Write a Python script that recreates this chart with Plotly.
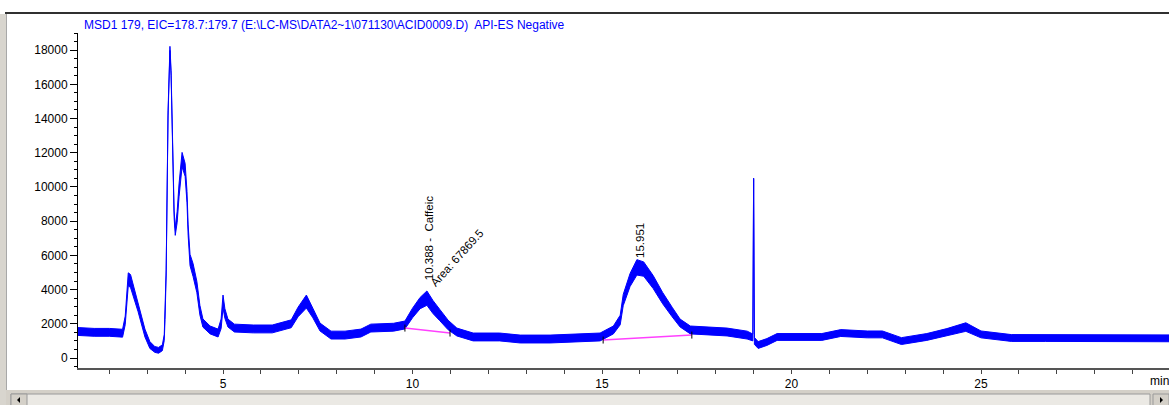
import plotly.graph_objects as go

# ---- data ----
time_min = [1.17, 1.6, 2.0, 2.35, 2.42, 2.5, 2.56, 2.63, 2.76, 2.94, 3.07, 3.2, 3.3, 3.4,
            3.45, 3.47, 3.50, 3.55, 3.58, 3.60, 3.63, 3.66, 3.68, 3.71, 3.74, 3.79, 3.84,
            3.92, 4.00, 4.05, 4.08, 4.13, 4.21, 4.31, 4.39, 4.47, 4.66, 4.87, 4.95, 5.0,
            5.05, 5.13, 5.3, 5.8, 6.3, 6.8, 6.98, 7.2, 7.37, 7.56, 7.85, 8.22, 8.64, 8.9,
            9.5, 9.8, 10.0, 10.2, 10.38, 10.54, 10.72, 10.94, 11.17, 11.6, 12.3, 12.84,
            13.63, 14.24, 14.95, 15.3, 15.48, 15.56, 15.74, 15.92, 16.1, 16.35, 16.6,
            16.85, 17.06, 17.33, 17.77, 18.3, 18.83, 18.98, 19.0, 19.02, 19.12, 19.35,
            19.62, 20.0, 20.8, 21.3, 22.0, 22.4, 22.9, 23.57, 24.1, 24.6, 25.0, 25.8,
            26.7, 28.0, 29.96]
abundance = [1550, 1500, 1500, 1450, 2200, 4600, 4500, 3970, 2980, 1460, 760, 500, 450, 600,
             1200, 2400, 5000, 14300, 16070, 18100, 16650, 13320, 10000, 8400, 7400, 8240,
             9800, 11600, 11000, 9400, 7480, 5730, 5140, 4150, 2800, 2045, 1640, 1460, 2000,
             3300, 2600, 2045, 1750, 1700, 1700, 2000, 2690, 3300, 2630, 1810, 1340, 1340,
             1460, 1750, 1800, 1930, 2630, 3210, 3500, 2980, 2510, 1930, 1520, 1230, 1230,
             1110, 1110, 1170, 1230, 1640, 2220, 3390, 4560, 5300, 5200, 4440, 3500, 2690,
             2045, 1640, 1600, 1520, 1340, 1200, 10500, 1000, 760, 935, 1230, 1230, 1230,
             1460, 1380, 1380, 990, 1230, 1520, 1810, 1380, 1170, 1170, 1150, 1150]
noise = [230, 230, 230, 230, 250, 380, 380, 330, 280, 230, 200, 170, 170, 170,
         170, 150, 150, 150, 150, 120, 150, 150, 170, 200, 230, 320, 380,
         420, 380, 330, 300, 330, 380, 330, 280, 240, 230, 230, 280,
         380, 280, 230, 230, 230, 230, 230, 280, 380, 280, 230, 230, 230,
         230, 230, 230, 230, 280, 330, 420, 380, 330, 280, 230, 230, 230,
         230, 230, 230, 230, 230, 280, 330, 380, 450, 420, 380, 330, 280,
         230, 230, 230, 230, 230, 200, 0, 200, 200, 200, 200, 200, 200,
         200, 200, 200, 200, 200, 200, 250, 200, 200, 200, 200, 200]

baseline1_t = [9.8, 10.99]
baseline1_y = [1750, 1460]
baseline2_t = [15.03, 17.37]
baseline2_y = [1050, 1340]

y_ticks = [0, 2000, 4000, 6000, 8000, 10000, 12000, 14000, 16000, 18000]
y_tick_labels = [str(v) for v in y_ticks]
x_ticks = [5, 10, 15, 20, 25]
x_tick_labels = [str(v) for v in x_ticks]

title_text = "MSD1 179, EIC=178.7:179.7 (E:\\LC-MS\\DATA2~1\\071130\\ACID0009.D)  API-ES Negative"
peak1_label = "10.388 -  Caffeic"
peak1_area = "Area: 67869.5"
peak2_label = "15.951"

# ---- layout geometry (pixels) ----
W, H = 1169, 405
ML, MR, MT, MB = 78, 0, 33, 37
PW, PH = W - ML - MR, H - MT - MB


def px(xp):
    return (xp - ML) / PW


def py(yp):
    return 1 - (yp - MT) / PH


lower = [c - n for c, n in zip(abundance, noise)]
upper = [c + n for c, n in zip(abundance, noise)]

fig = go.Figure()
fig.add_trace(go.Scatter(x=time_min, y=lower, mode="lines",
                         line=dict(color="#0000ff", width=1), hoverinfo="skip"))
fig.add_trace(go.Scatter(x=time_min, y=upper, mode="lines", fill="tonexty",
                         fillcolor="#0000ff", line=dict(color="#0000ff", width=1)))
for bt, by in [(baseline1_t, baseline1_y), (baseline2_t, baseline2_y)]:
    fig.add_trace(go.Scatter(x=bt, y=by, mode="lines+markers",
                             line=dict(color="#ff40ff", width=1.5),
                             marker=dict(symbol="line-ns", size=5,
                                         line=dict(color="black", width=1))))

font = "Liberation Sans, Arial, sans-serif"
fig.update_layout(
    width=W, height=H, showlegend=False,
    margin=dict(l=ML, r=MR, t=MT, b=MB, pad=0),
    paper_bgcolor="white", plot_bgcolor="white",
    font=dict(family=font, size=12, color="black"),
    xaxis=dict(range=[1.174, 29.96], tickvals=x_ticks, ticktext=x_tick_labels,
               ticks="outside", ticklen=4,
               tickcolor="#444", showline=True, linecolor="#555", linewidth=2,
               showgrid=False, zeroline=False, tickfont=dict(size=12),
               minor=dict(dtick=1, tick0=0, ticks="outside", ticklen=4, tickcolor="#444")),
    yaxis=dict(range=[-584, 19000], tickvals=y_ticks, ticktext=y_tick_labels,
               ticks="outside", ticklen=7,
               tickcolor="black", showline=True, linecolor="black", linewidth=1,
               showgrid=False, zeroline=False, tickfont=dict(size=12),
               minor=dict(dtick=500, tick0=0, ticks="outside", ticklen=3, tickcolor="black")),
)

annots = [
    dict(x=px(82), y=py(25), xref="paper", yref="paper", text=title_text,
         showarrow=False, xanchor="left", yanchor="middle",
         font=dict(size=12, color="#0000ff")),
    dict(x=10.44, y=7015, xref="x", yref="y", text=peak1_label, textangle=-90,
         showarrow=False, xanchor="center", yanchor="middle", font=dict(size=11.5)),
    dict(x=11.17, y=5846, xref="x", yref="y", text=peak1_area, textangle=-48,
         showarrow=False, xanchor="center", yanchor="middle", font=dict(size=11.5)),
    dict(x=16.0, y=6898, xref="x", yref="y", text=peak2_label, textangle=-90,
         showarrow=False, xanchor="center", yanchor="middle", font=dict(size=11.5)),
    dict(x=px(1148), y=py(381), xref="paper", yref="paper", text="min",
         showarrow=False, xanchor="left", yanchor="middle", font=dict(size=12)),
]
fig.update_layout(annotations=annots)


def rect(x0, y0, x1, y1, fill, line=None, lw=0):
    return dict(type="rect", xref="paper", yref="paper", x0=px(x0), x1=px(x1),
                y0=py(y1), y1=py(y0), fillcolor=fill, layer="above",
                line=dict(color=line or fill, width=lw))


shapes = [
    # window frame top border
    dict(type="line", xref="paper", yref="paper", x0=px(5), x1=px(1169),
         y0=py(13), y1=py(13), line=dict(color="#303030", width=2)),
    # left border strip
    rect(0, 14, 6, 405, "#d8d5ce"),
    dict(type="line", xref="paper", yref="paper", x0=px(6.5), x1=px(6.5),
         y0=py(14), y1=py(405), line=dict(color="#a8a8a8", width=1)),
    # scrollbar
    rect(6, 390, 1169, 405, "#d4d0c8"),
    rect(11, 394, 1150, 406, "#ebe9e4", "#9a9a9a", 1),
    rect(11, 394, 27, 406, "#d4d0c8", "#9a9a9a", 1),
    rect(1153, 394, 1169, 406, "#d4d0c8", "#9a9a9a", 1),
    dict(type="path", xref="paper", yref="paper", layer="above",
         path=f"M {px(17)} {py(400)} L {px(20)} {py(397)} L {px(20)} {py(403)} Z",
         fillcolor="black", line=dict(color="black", width=0)),
    dict(type="path", xref="paper", yref="paper", layer="above",
         path=f"M {px(1163)} {py(400)} L {px(1160)} {py(397)} L {px(1160)} {py(403)} Z",
         fillcolor="black", line=dict(color="black", width=0)),
]
fig.update_layout(shapes=shapes)

fig.write_html("out.html",
               config={"displayModeBar": False},
               post_script="document.body.style.margin='0px';document.body.style.overflow='hidden';")
